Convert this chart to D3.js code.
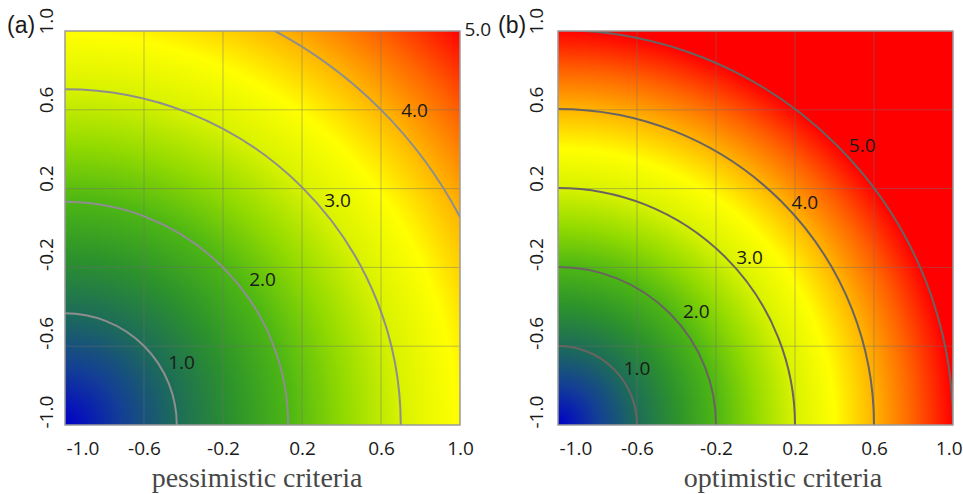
<!DOCTYPE html>
<html>
<head>
<meta charset="utf-8">
<script src="https://cdn.jsdelivr.net/npm/d3@7"></script>
<style>
body { margin: 0; background: #fff; }
</style>
</head>
<body>
<svg id="chart" width="963" height="494"></svg>
<script>
// values

var tickValues = [-1.0, -0.6, -0.2, 0.2, 0.6, 1.0];
var levels = [1.0, 2.0, 3.0, 4.0, 5.0];

// radius of each level line, measured from the (-1,-1) corner
var pessimisticRadius = [0.566, 1.13, 1.70, 2.26, 2.83];
var optimisticRadius = [0.40, 0.80, 1.20, 1.60, 2.00];

// level label positions
var pessimisticLabelX = [-0.41, 0.00, 0.38, 0.77, 1.09];
var pessimisticLabelY = [-0.68, -0.26, 0.14, 0.60, 1.01];
var optimisticLabelX = [-0.60, -0.30, -0.03, 0.25, 0.54];
var optimisticLabelY = [-0.71, -0.42, -0.15, 0.13, 0.42];

// colour ramp along the level
var colourLevels = [0, 0.5, 1, 1.5, 2, 2.5, 3, 3.5, 4, 4.5, 5];
var colourRamp = ["#0000c8", "#133e96", "#1d6c58", "#2c922c", "#4cb614", "#92da00",
    "#d8f200", "#ffff00", "#ffb400", "#ff6000", "#ff0000"];

var panels = [
    {
        id: "a", left: 65, right: 460, top: 31, bottom: 425,
        title: "pessimistic criteria", titleX: 257,
        letterX: 7, yLabelX: 53,
        radius: pessimisticRadius, labelX: pessimisticLabelX, labelY: pessimisticLabelY,
        lineColour: "#8e8e8e"
    },
    {
        id: "b", left: 558, right: 953, top: 31, bottom: 425,
        title: "optimistic criteria", titleX: 783,
        letterX: 498, yLabelX: 543,
        radius: optimisticRadius, labelX: optimisticLabelX, labelY: optimisticLabelY,
        lineColour: "#6a6460"
    }
];

var width = 963;
var svg = d3.select("#chart");
var defs = svg.append("defs");
var fmt = function (d) { return d.toFixed(1); };
var labelFont = "'Open Sans', sans-serif";

panels.forEach(function (p) {

    var x = d3.scaleLinear().domain([-1, 1]).range([p.left, p.right]);
    var y = d3.scaleLinear().domain([-1, 1]).range([p.bottom, p.top]);

    // pixels per criteria unit
    var rScale = function (r) { return x(-1 + r) - x(-1); };
    var maxLevel = levels[levels.length - 1];
    var maxR = rScale(p.radius[p.radius.length - 1]);

    var grad = defs.append("radialGradient")
        .attr("id", "grad-" + p.id)
        .attr("gradientUnits", "userSpaceOnUse")
        .attr("cx", x(-1))
        .attr("cy", y(-1))
        .attr("fx", x(-1))
        .attr("fy", y(-1))
        .attr("r", maxR);

    grad.selectAll("stop")
        .data(colourLevels)
        .enter()
        .append("stop")
        .attr("offset", function (d) { return d / maxLevel; })
        .attr("stop-color", function (d, i) { return colourRamp[i]; });

    defs.append("clipPath")
        .attr("id", "clip-" + p.id)
        .append("rect")
        .attr("x", p.left)
        .attr("y", p.top)
        .attr("width", p.right - p.left)
        .attr("height", p.bottom - p.top);

    var g = svg.append("g").attr("class", "panel-" + p.id);

    g.append("rect")
        .attr("x", p.left)
        .attr("y", p.top)
        .attr("width", p.right - p.left)
        .attr("height", p.bottom - p.top)
        .attr("fill", "url(#grad-" + p.id + ")");

    var inner = g.append("g").attr("clip-path", "url(#clip-" + p.id + ")");

    // grid
    var gridTicks = tickValues.filter(function (d) { return d > -1 && d < 1; });

    inner.selectAll(".vgrid")
        .data(gridTicks)
        .enter()
        .append("line")
        .attr("class", "vgrid")
        .attr("x1", function (d) { return x(d); })
        .attr("x2", function (d) { return x(d); })
        .attr("y1", p.top)
        .attr("y2", p.bottom)
        .style("stroke", "#6e6e6e")
        .style("stroke-opacity", 0.45)
        .style("stroke-width", 1);

    inner.selectAll(".hgrid")
        .data(gridTicks)
        .enter()
        .append("line")
        .attr("class", "hgrid")
        .attr("y1", function (d) { return y(d); })
        .attr("y2", function (d) { return y(d); })
        .attr("x1", p.left)
        .attr("x2", p.right)
        .style("stroke", "#6e6e6e")
        .style("stroke-opacity", 0.45)
        .style("stroke-width", 1);

    // level lines
    inner.selectAll(".level")
        .data(p.radius)
        .enter()
        .append("circle")
        .attr("class", "level")
        .attr("cx", x(-1))
        .attr("cy", y(-1))
        .attr("r", function (d) { return rScale(d); })
        .style("fill", "none")
        .style("stroke", p.lineColour)
        .style("stroke-width", 2);

    g.append("rect")
        .attr("x", p.left)
        .attr("y", p.top)
        .attr("width", p.right - p.left)
        .attr("height", p.bottom - p.top)
        .style("fill", "none")
        .style("stroke", "#9a9a9a")
        .style("stroke-width", 1.5);

    // level labels
    g.selectAll(".level-label")
        .data(levels)
        .enter()
        .append("text")
        .attr("class", "level-label")
        .attr("x", function (d, i) { return x(p.labelX[i]); })
        .attr("y", function (d, i) { return y(p.labelY[i]); })
        .attr("text-anchor", "middle")
        .attr("dy", "0.36em")
        .style("font-family", labelFont)
        .style("font-size", "19px")
        .style("fill", "#1a1a1a")
        .text(fmt);

    // x axis
    var xAxis = g.append("g")
        .attr("transform", "translate(0," + (p.bottom + 30) + ")")
        .call(d3.axisBottom(x).tickValues(tickValues).tickFormat(fmt).tickSize(0).tickPadding(0));

    xAxis.select(".domain").remove();
    xAxis.selectAll("text")
        .attr("dy", 0)
        .style("font-family", labelFont)
        .style("font-size", "19px")
        .style("fill", "#1a1a1a");
    xAxis.selectAll(".tick")
        .filter(function (d) { return d === -1; })
        .select("text")
        .attr("text-anchor", "start")
        .attr("x", 1);
    // keep the last label inside the page
    if (p.right + 14 > width) {
        xAxis.selectAll(".tick")
            .filter(function (d) { return d === 1; })
            .select("text")
            .attr("text-anchor", "end")
            .attr("x", width - 1 - p.right);
    }

    // y axis, labels turned on their side
    var yAxis = g.append("g")
        .attr("transform", "translate(" + p.yLabelX + ",0)")
        .call(d3.axisLeft(y).tickValues(tickValues).tickFormat(fmt).tickSize(0).tickPadding(0));

    yAxis.select(".domain").remove();
    yAxis.selectAll("text")
        .attr("x", 0)
        .attr("dy", 0)
        .attr("text-anchor", "start")
        .attr("transform", "translate(0,3) rotate(-90)")
        .style("font-family", labelFont)
        .style("font-size", "19px")
        .style("fill", "#1a1a1a");

    // title
    g.append("text")
        .attr("x", p.titleX)
        .attr("y", 487)
        .attr("text-anchor", "middle")
        .style("font-family", "'Liberation Serif', 'Times New Roman', serif")
        .style("font-size", "28px")
        .style("fill", "#474747")
        .text(p.title);

    g.append("text")
        .attr("x", p.letterX)
        .attr("y", 33)
        .style("font-family", "'Liberation Sans', Arial, sans-serif")
        .style("font-size", "23px")
        .style("fill", "#1a1a1a")
        .text("(" + p.id + ")");
});
</script>
</body>
</html>
